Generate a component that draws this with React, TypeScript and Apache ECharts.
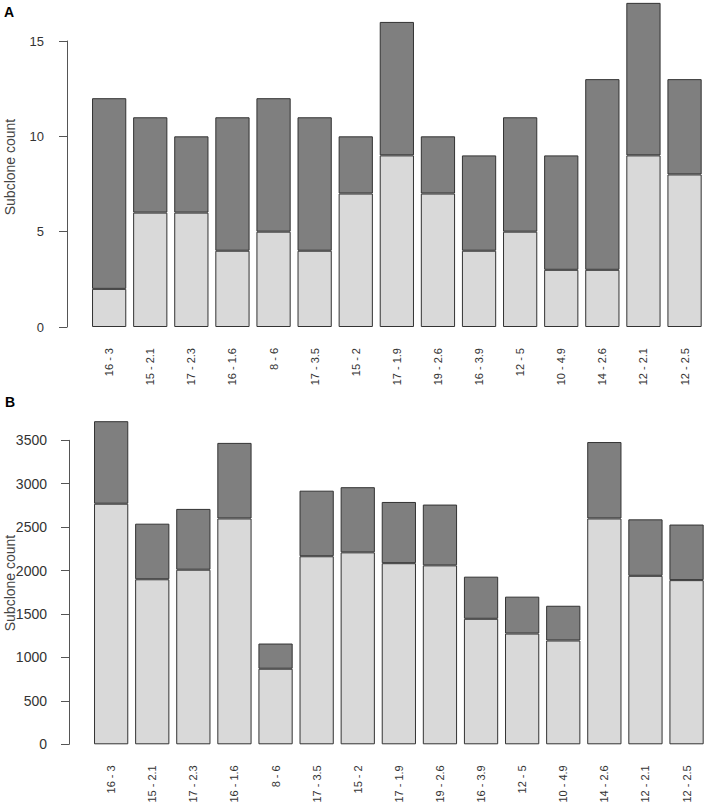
import React, { useEffect, useRef } from "react";
import * as echarts from "echarts";

const categories = [
  "16 - 3", "15 - 2.1", "17 - 2.3", "16 - 1.6", "8 - 6", "17 - 3.5", "15 - 2",
  "17 - 1.9", "19 - 2.6", "16 - 3.9", "12 - 5", "10 - 4.9", "14 - 2.6", "12 - 2.1", "12 - 2.5",
];

// Panel A: light (lower) segment and total bar height
const aLower = [2, 6, 6, 4, 5, 4, 7, 9, 7, 4, 5, 3, 3, 9, 8];
const aTotal = [12, 11, 10, 11, 12, 11, 10, 16, 10, 9, 11, 9, 13, 17, 13];

// Panel B: light (lower) segment and total bar height
const bLower = [2770, 1900, 2010, 2600, 870, 2165, 2210, 2085, 2060, 1445, 1275, 1195, 2600, 1940, 1890];
const bTotal = [3720, 2540, 2710, 3470, 1160, 2920, 2960, 2790, 2760, 1930, 1700, 1595, 3480, 2590, 2530];

const aTicks = { min: 0, max: 15, interval: 5 };
const bTicks = { min: 0, max: 3500, interval: 500 };

const yTitle = "Subclone count";

const FONT = "'Liberation Sans', Arial, sans-serif";
const DARK = "#7f7f7f";
const LIGHT = "#d9d9d9";
const BORDER = "#333333";

export default function App() {
  const ref = useRef<HTMLDivElement>(null);

  useEffect(() => {
    if (!ref.current) return;
    const chart = echarts.init(ref.current, undefined, { renderer: "svg" });
    const aUpper = aTotal.map((t, i) => t - aLower[i]);
    const bUpper = bTotal.map((t, i) => t - bLower[i]);

    const yAxisBase = (tickFont: number, labelMargin: number) => ({
      type: "value" as const,
      splitLine: { show: false },
      offset: 21.6,
      axisLine: { show: true, lineStyle: { color: "#555", width: 1 } },
      axisTick: { show: true, length: 8, inside: false, lineStyle: { color: "#555" } },
      axisLabel: {
        fontSize: tickFont,
        color: "#333",
        fontFamily: FONT,
        margin: labelMargin,
        formatter: (v: number) => String(v),
      },
    });

    const xAxisBase = (gridIndex: number) => ({
      type: "category" as const,
      gridIndex,
      data: categories,
      axisLine: { show: false },
      axisTick: { show: false },
      axisLabel: { rotate: 90, fontSize: 11, color: "#333", fontFamily: FONT, margin: 21, interval: 0 },
    });

    const barStyle = (color: string) => ({
      color,
      borderColor: BORDER,
      borderWidth: 1,
    });

    const yName = (x: number, y: number) => ({
      type: "text",
      x,
      y,
      rotation: Math.PI / 2,
      style: {
        text: yTitle,
        fontSize: 14,
        fill: "#444",
        fontFamily: FONT,
        align: "center",
        verticalAlign: "middle",
      },
    });

    chart.setOption({
      animation: false,
      backgroundColor: "#ffffff",
      textStyle: { fontFamily: FONT },
      grid: [
        { left: 88.6, top: 41, width: 616.5, height: 286, outerBoundsMode: "none", containLabel: false },
        { left: 90.6, top: 440.3, width: 616.5, height: 304, outerBoundsMode: "none", containLabel: false },
      ],
      xAxis: [xAxisBase(0), xAxisBase(1)],
      yAxis: [
        { ...yAxisBase(13, 23), gridIndex: 0, ...aTicks },
        { ...yAxisBase(14, 22), gridIndex: 1, ...bTicks },
      ],
      graphic: [
        { type: "text", left: 4, top: 5, style: { text: "A", fontSize: 14, fontWeight: "bold", fill: "#000", fontFamily: FONT } },
        { type: "text", left: 5, top: 395, style: { text: "B", fontSize: 14, fontWeight: "bold", fill: "#000", fontFamily: FONT } },
        yName(10, 167),
        yName(10, 583),
      ],
      series: [
        { type: "bar", xAxisIndex: 0, yAxisIndex: 0, stack: "a", data: aLower, itemStyle: barStyle(LIGHT), barCategoryGap: "16.67%", clip: false },
        { type: "bar", xAxisIndex: 0, yAxisIndex: 0, stack: "a", data: aUpper, itemStyle: barStyle(DARK), barCategoryGap: "16.67%", clip: false },
        { type: "bar", xAxisIndex: 1, yAxisIndex: 1, stack: "b", data: bLower, itemStyle: barStyle(LIGHT), barCategoryGap: "16.67%", clip: false },
        { type: "bar", xAxisIndex: 1, yAxisIndex: 1, stack: "b", data: bUpper, itemStyle: barStyle(DARK), barCategoryGap: "16.67%", clip: false },
      ],
    });
    return () => chart.dispose();
  }, []);

  return (
    <div
      ref={ref}
      style={{ position: "fixed", left: 0, top: 0, width: 708, height: 804, background: "#fff" }}
    />
  );
}
